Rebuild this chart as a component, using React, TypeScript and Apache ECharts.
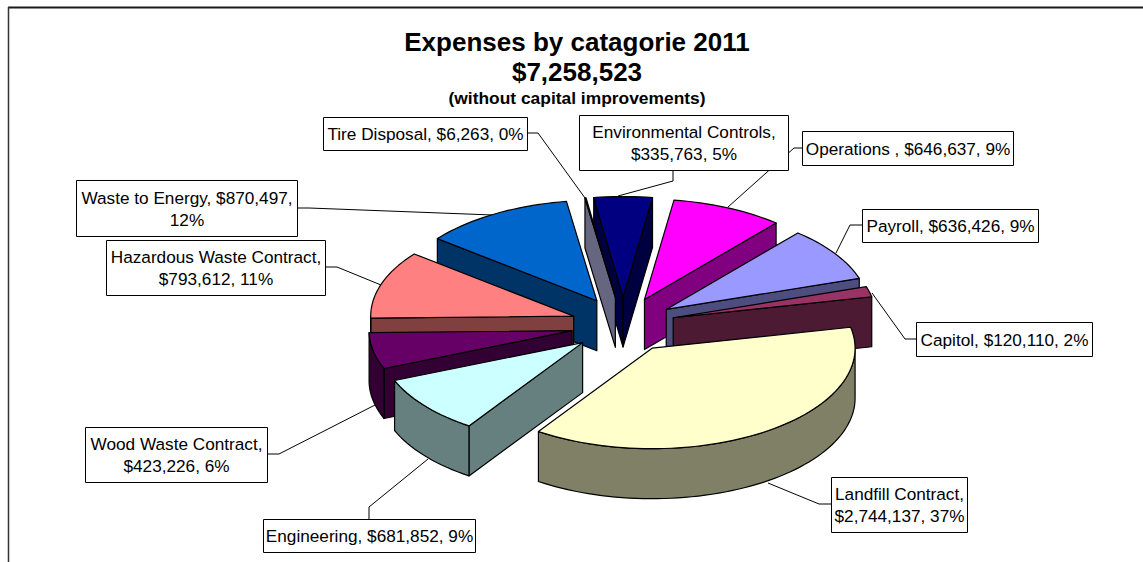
import React, { useEffect, useRef } from "react";
import * as echarts from "echarts";

// ---- data ----
const categories = ["Environmental Controls", "Operations ", "Payroll", "Capitol", "Landfill Contract", "Engineering", "Wood Waste Contract", "Hazardous Waste Contract", "Waste to Energy", "Tire Disposal"];
const expenses = [335763, 646637, 636426, 120110, 2744137, 681852, 423226, 793612, 870497, 6263];
const percents = [5, 9, 9, 2, 37, 9, 6, 11, 12, 0];
const titleLines = ["Expenses by catagorie 2011", "$7,258,523", "(without capital improvements)"];
// where each label's text wraps onto a second line
const labelBreaks = ["name", "", "", "", "name", "", "name", "name", "value", ""];

// ---- styles and layout ----
const topColors = ["#000080", "#FF00FF", "#9999FF", "#993366", "#FFFFCC", "#CCFFFF", "#660066", "#FF8080", "#0066CC", "#CCCCFF"];
const sideColors = ["#000040", "#800080", "#4D4D80", "#4D1A33", "#808066", "#668080", "#330033", "#804040", "#003366", "#666680"];
const FONT = '"Liberation Sans", Arial, sans-serif';
const CX = 623, CY = 325, RADIUS = 203, SQUASH = 0.495, EXPLODE_X = 52, EXPLODE_Y = 28, DEPTH = 50, START_ANGLE = -8.3;

const boxes = [
  [579, 115, 788, 170], [802, 131, 1013, 165], [862, 209, 1038, 242], [916, 322, 1092, 356], [831, 477, 967, 532],
  [263, 519, 475, 552], [85, 427, 267, 482], [106, 240, 325, 295], [76, 180, 297, 236], [323, 117, 527, 150],
];
const leaders = [
  [[673, 170], [673, 181], [618, 196]],
  [[802, 148], [794, 148], [728, 207]],
  [[862, 225], [850, 225], [836, 253]],
  [[916, 339], [905, 339], [872, 293]],
  [[831, 504], [819, 504], [768, 483]],
  [[369, 519], [369, 507], [428, 459]],
  [[267, 454], [279, 454], [375, 405]],
  [[325, 267], [337, 267], [381, 285]],
  [[297, 208], [309, 208], [493, 215]],
  [[527, 133], [538, 133], [585, 198]],
];

const total = expenses.reduce((a, b) => a + b, 0);
const rad = (d: number) => (d * Math.PI) / 180;

const wedges = (() => {
  let a = START_ANGLE;
  return expenses.map((v) => {
    const start = a;
    a += (v / total) * 360;
    const mid = (start + a) / 2;
    return {
      start,
      end: a,
      ax: CX + EXPLODE_X * Math.sin(rad(mid)),
      ay: CY - EXPLODE_Y * Math.cos(rad(mid)),
    };
  });
})();

// back slices are painted first
const drawOrder = expenses.map((_, i) => i).sort((p, q) => wedges[p].ay - wedges[q].ay);

const fmt = (v: number) => "$" + v.toLocaleString("en-US");
const labelText = (i: number) => {
  const n = categories[i] + ",";
  const val = fmt(expenses[i]) + ",";
  const p = percents[i] + "%";
  if (labelBreaks[i] === "name") return `${n}\n${val} ${p}`;
  if (labelBreaks[i] === "value") return `${n} ${val}\n${p}`;
  return `${n} ${val} ${p}`;
};

function renderWedge(_params: any, api: any) {
  const i = api.value(1) as number;
  const w = wedges[i];
  const pt = (deg: number, dz = 0) => [
    w.ax + RADIUS * Math.sin(rad(deg)),
    w.ay - RADIUS * SQUASH * Math.cos(rad(deg)) + dz,
  ];
  const arc = (from: number, to: number, dz = 0) => {
    const n = Math.max(2, Math.ceil(Math.abs(to - from) / 2));
    const out = [];
    for (let k = 0; k <= n; k++) out.push(pt(from + ((to - from) * k) / n, dz));
    return out;
  };
  const edge = { stroke: "#000", lineWidth: 1.2, lineJoin: "round" };
  const side = { ...edge, fill: sideColors[i] };
  const children: any[] = [];
  const wall = (deg: number) => ({
    type: "polygon",
    shape: { points: [[w.ax, w.ay], pt(deg), pt(deg, DEPTH), [w.ax, w.ay + DEPTH]] },
    style: side,
  });
  if (Math.sin(rad(w.start)) < 0) children.push(wall(w.start));
  if (Math.sin(rad(w.end)) > 0) children.push(wall(w.end));
  const from = Math.max(w.start, 90);
  const to = Math.min(w.end, 270);
  if (to > from) {
    children.push({
      type: "polygon",
      shape: { points: [...arc(from, to), ...arc(to, from, DEPTH)] },
      style: side,
    });
  }
  children.push({
    type: "polygon",
    shape: { points: [[w.ax, w.ay], ...arc(w.start, w.end)] },
    style: { ...edge, fill: topColors[i] },
  });
  return { type: "group", children };
}

export default function App() {
  const ref = useRef<HTMLDivElement>(null);
  useEffect(() => {
    document.body.style.margin = "0";
    const chart = echarts.init(ref.current!, undefined, { renderer: "svg" });
    const titleTops = [29, 59, 89];
    const titleSizes = [26, 26, 17.4];
    chart.setOption({
      animation: false,
      backgroundColor: "#fff",
      title: titleLines.map((text, i) => ({
        text,
        left: 577,
        top: titleTops[i],
        textAlign: "center",
        padding: 0,
        textStyle: { fontFamily: FONT, fontWeight: "bold", fontSize: titleSizes[i], color: "#000" },
      })),
      series: [
        {
          type: "custom",
          coordinateSystem: "none",
          renderItem: renderWedge,
          silent: true,
          clip: false,
          data: drawOrder.map((i) => [expenses[i], i]),
        },
      ],
      graphic: [
        { type: "line", shape: { x1: 8, y1: 7.5, x2: 1143, y2: 7.5 }, style: { stroke: "#1a1a1a", lineWidth: 2 } },
        { type: "line", shape: { x1: 8.5, y1: 7, x2: 8.5, y2: 562 }, style: { stroke: "#333", lineWidth: 1.5 } },
        ...leaders.map((pts) => ({
          type: "polyline",
          shape: { points: pts },
          style: { stroke: "#000", lineWidth: 1, fill: null },
        })),
        ...boxes.flatMap((b, i) => [
          {
            type: "rect",
            shape: { x: b[0] + 0.5, y: b[1] + 0.5, width: b[2] - b[0], height: b[3] - b[1] },
            style: { fill: "#fff", stroke: "#000", lineWidth: 1 },
          },
          {
            type: "text",
            x: (b[0] + b[2]) / 2 + 0.5,
            y: (b[1] + b[3]) / 2 + 0.5,
            style: {
              text: labelText(i),
              fill: "#000",
              font: `17.2px ${FONT}`,
              lineHeight: 22,
              align: "center",
              verticalAlign: "middle",
            },
          },
        ]),
      ],
    });
    return () => chart.dispose();
  }, []);
  return <div ref={ref} style={{ width: 1143, height: 562 }} />;
}
